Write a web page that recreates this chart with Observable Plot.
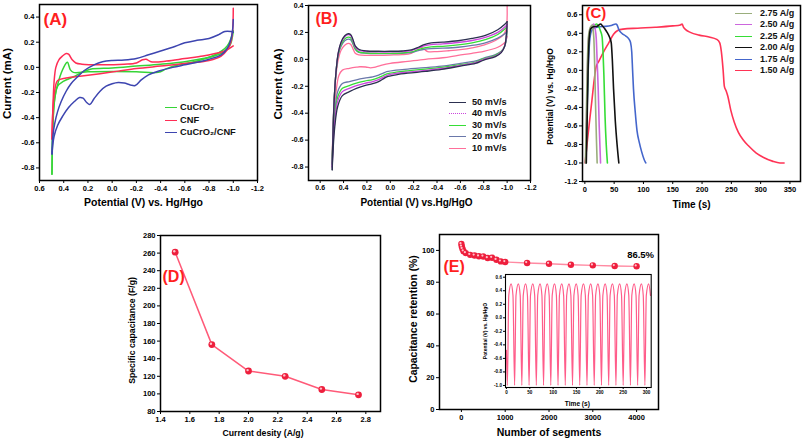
<!DOCTYPE html>
<html><head><meta charset="utf-8">
<script src="https://cdn.jsdelivr.net/npm/d3@7"></script>
<script src="https://cdn.jsdelivr.net/npm/@observablehq/plot@0.6"></script>
<style>
body{margin:0;background:#fff;}
#fig{position:relative;width:803px;height:442px;overflow:hidden;background:#fff;font-family:"Liberation Sans",Arial,sans-serif;}
#fig svg{position:absolute;}
.lgt{position:absolute;font-weight:bold;color:#111;white-space:nowrap;}
.lgs{position:absolute;height:0;}
</style>
</head><body><div id="fig"></div>
<script>
// ---------------- Panel A data ----------------
const aSeries = ["CuCrO₂", "CNF", "CuCrO₂/CNF"];
const aColors = ["#36d436", "#ff2d55", "#3d45b0"];
const aXTicks = [0.6, 0.4, 0.2, 0.0, -0.2, -0.4, -0.6, -0.8, -1.0, -1.2];
const aYTicks = [-0.8, -0.6, -0.4, -0.2, 0.0, 0.2, 0.4];
const aGreenUp = [[0.497,-0.85],[0.49,-0.5],[0.475,-0.25],[0.44,-0.1],[0.40,0.0],[0.37,0.04],[0.345,-0.02],[0.32,-0.04],[0.2,-0.035],[0.0,-0.033],[-0.2,-0.035],[-0.38,-0.04],[-0.45,-0.01],[-0.55,0.02],[-0.7,0.05],[-0.85,0.1],[-0.95,0.17],[-1.0,0.29]];
const aGreenDown = [[-1.0,0.29],[-0.97,0.17],[-0.9,0.11],[-0.75,0.07],[-0.6,0.045],[-0.4,0.025],[-0.2,0.01],[0.0,-0.005],[0.18,-0.015],[0.25,-0.04],[0.32,-0.075],[0.40,-0.11],[0.45,-0.15],[0.48,-0.3],[0.497,-0.85]];
const aRedUp = [[0.497,-0.57],[0.49,-0.35],[0.48,-0.12],[0.465,0.0],[0.44,0.06],[0.41,0.09],[0.38,0.11],[0.36,0.105],[0.33,0.06],[0.30,0.035],[0.25,0.025],[0.1,0.02],[-0.1,0.025],[-0.2,0.035],[-0.25,0.06],[-0.28,0.065],[-0.32,0.045],[-0.45,0.05],[-0.6,0.07],[-0.75,0.09],[-0.85,0.11],[-0.93,0.13],[-1.0,0.17]];
const aRedDown = [[-1.0,0.47],[-0.995,0.3],[-0.98,0.2],[-0.95,0.14],[-0.9,0.09],[-0.8,0.055],[-0.6,0.03],[-0.4,0.01],[-0.2,-0.01],[-0.05,-0.03],[0.1,-0.05],[0.25,-0.068],[0.38,-0.085],[0.45,-0.105],[0.475,-0.19],[0.49,-0.35],[0.497,-0.57]];
const aBlueUp = [[0.497,-0.69],[0.49,-0.55],[0.475,-0.45],[0.45,-0.35],[0.42,-0.27],[0.38,-0.19],[0.34,-0.13],[0.28,-0.07],[0.23,-0.025],[0.15,0.02],[0.08,0.045],[0.0,0.055],[-0.1,0.058],[-0.2,0.07],[-0.3,0.1],[-0.4,0.13],[-0.5,0.16],[-0.6,0.195],[-0.7,0.215],[-0.8,0.23],[-0.88,0.26],[-0.93,0.285],[-0.98,0.285],[-1.0,0.28]];
const aBlueDown = [[-1.0,0.38],[-0.995,0.3],[-0.98,0.22],[-0.95,0.15],[-0.9,0.1],[-0.8,0.065],[-0.7,0.04],[-0.6,0.02],[-0.5,0.0],[-0.4,-0.025],[-0.3,-0.06],[-0.24,-0.1],[-0.19,-0.145],[-0.15,-0.14],[-0.1,-0.125],[-0.05,-0.12],[0.0,-0.13],[0.05,-0.15],[0.1,-0.19],[0.15,-0.25],[0.185,-0.295],[0.21,-0.28],[0.24,-0.245],[0.27,-0.24],[0.31,-0.27],[0.36,-0.32],[0.41,-0.39],[0.45,-0.46],[0.48,-0.55],[0.497,-0.69]];

// ---------------- Panel B data ----------------
const bSeries = ["50 mV/s", "40 mV/s", "30 mV/s", "20 mV/s", "10 mV/s"];
const bColors = ["#2c3050", "#cc44dd", "#36dd36", "#6a78aa", "#ff6f9a"];
const bXTicks = [0.6, 0.4, 0.2, 0.0, -0.2, -0.4, -0.6, -0.8, -1.0, -1.2];
const bYTicks = [-0.8, -0.6, -0.4, -0.2, 0.0, 0.2, 0.4];
const b50Up = [[0.497,-0.82],[0.49,-0.55],[0.48,-0.3],[0.465,-0.1],[0.445,0.05],[0.42,0.13],[0.39,0.175],[0.36,0.19],[0.34,0.185],[0.32,0.15],[0.30,0.1],[0.27,0.075],[0.2,0.062],[0.1,0.06],[0.0,0.06],[-0.1,0.062],[-0.18,0.07],[-0.24,0.09],[-0.29,0.11],[-0.35,0.123],[-0.45,0.128],[-0.58,0.138],[-0.7,0.155],[-0.82,0.18],[-0.92,0.22],[-0.98,0.26],[-1.0,0.28]];
const b50Down = [[-1.0,0.28],[-0.995,0.2],[-0.98,0.1],[-0.95,0.05],[-0.9,0.02],[-0.8,-0.005],[-0.73,-0.03],[-0.6,-0.05],[-0.44,-0.075],[-0.3,-0.09],[-0.15,-0.103],[-0.05,-0.115],[0.03,-0.13],[0.06,-0.145],[0.1,-0.165],[0.15,-0.18],[0.22,-0.195],[0.29,-0.215],[0.35,-0.24],[0.41,-0.27],[0.45,-0.35],[0.475,-0.5],[0.49,-0.68],[0.497,-0.82]];
const b40Up = [[0.497,-0.8],[0.49,-0.55],[0.48,-0.3],[0.465,-0.1],[0.445,0.05],[0.42,0.125],[0.39,0.168],[0.36,0.183],[0.34,0.178],[0.32,0.14],[0.30,0.09],[0.27,0.068],[0.2,0.057],[0.1,0.055],[0.0,0.055],[-0.1,0.057],[-0.18,0.065],[-0.24,0.085],[-0.29,0.1],[-0.35,0.11],[-0.45,0.115],[-0.58,0.125],[-0.7,0.14],[-0.82,0.165],[-0.92,0.2],[-0.98,0.24],[-1.0,0.26]];
const b40Down = [[-1.0,0.26],[-0.995,0.19],[-0.98,0.1],[-0.95,0.055],[-0.9,0.025],[-0.8,0.0],[-0.73,-0.025],[-0.6,-0.045],[-0.44,-0.068],[-0.3,-0.082],[-0.15,-0.095],[-0.05,-0.105],[0.03,-0.12],[0.06,-0.133],[0.1,-0.15],[0.15,-0.165],[0.22,-0.178],[0.29,-0.195],[0.35,-0.215],[0.41,-0.24],[0.45,-0.31],[0.475,-0.46],[0.49,-0.64],[0.497,-0.8]];
const b30Up = [[0.497,-0.78],[0.49,-0.53],[0.48,-0.3],[0.465,-0.1],[0.445,0.04],[0.42,0.11],[0.39,0.152],[0.36,0.165],[0.34,0.16],[0.32,0.125],[0.30,0.08],[0.27,0.055],[0.2,0.047],[0.1,0.045],[0.0,0.045],[-0.1,0.047],[-0.18,0.055],[-0.24,0.072],[-0.29,0.085],[-0.35,0.093],[-0.45,0.097],[-0.58,0.107],[-0.7,0.122],[-0.82,0.148],[-0.92,0.185],[-0.98,0.225],[-1.0,0.245]];
const b30Down = [[-1.0,0.245],[-0.995,0.18],[-0.98,0.1],[-0.95,0.058],[-0.9,0.03],[-0.8,0.005],[-0.73,-0.02],[-0.6,-0.04],[-0.44,-0.06],[-0.3,-0.073],[-0.15,-0.085],[-0.05,-0.095],[0.03,-0.108],[0.06,-0.12],[0.1,-0.135],[0.15,-0.15],[0.22,-0.162],[0.29,-0.177],[0.35,-0.195],[0.41,-0.215],[0.45,-0.28],[0.475,-0.43],[0.49,-0.6],[0.497,-0.78]];
const b20Up = [[0.497,-0.77],[0.49,-0.52],[0.48,-0.3],[0.465,-0.1],[0.445,0.035],[0.42,0.1],[0.39,0.138],[0.36,0.15],[0.34,0.145],[0.32,0.115],[0.30,0.075],[0.27,0.052],[0.2,0.045],[0.1,0.043],[0.0,0.043],[-0.1,0.045],[-0.18,0.05],[-0.24,0.065],[-0.29,0.075],[-0.35,0.08],[-0.45,0.083],[-0.58,0.09],[-0.7,0.103],[-0.82,0.125],[-0.92,0.158],[-0.98,0.19],[-1.0,0.21]];
const b20Down = [[-1.0,0.21],[-0.995,0.16],[-0.98,0.1],[-0.95,0.06],[-0.9,0.035],[-0.8,0.01],[-0.73,-0.012],[-0.6,-0.03],[-0.44,-0.05],[-0.3,-0.062],[-0.15,-0.072],[-0.05,-0.08],[0.03,-0.092],[0.06,-0.103],[0.1,-0.117],[0.15,-0.13],[0.22,-0.14],[0.29,-0.152],[0.35,-0.165],[0.41,-0.18],[0.45,-0.24],[0.475,-0.4],[0.49,-0.57],[0.497,-0.77]];
const b10Up = [[0.497,-0.74],[0.49,-0.5],[0.48,-0.3],[0.465,-0.12],[0.445,0.0],[0.42,0.07],[0.39,0.105],[0.36,0.118],[0.34,0.112],[0.32,0.08],[0.30,0.045],[0.27,0.033],[0.2,0.03],[0.1,0.03],[0.0,0.032],[-0.1,0.035],[-0.18,0.045],[-0.22,0.065],[-0.26,0.09],[-0.29,0.075],[-0.32,0.058],[-0.4,0.058],[-0.5,0.064],[-0.6,0.072],[-0.7,0.085],[-0.8,0.105],[-0.9,0.14],[-0.96,0.175],[-0.99,0.22],[-1.0,0.4]];
const b10Down = [[-1.0,0.17],[-0.985,0.13],[-0.96,0.11],[-0.92,0.09],[-0.87,0.075],[-0.8,0.06],[-0.7,0.045],[-0.58,0.03],[-0.45,0.012],[-0.3,0.0],[-0.15,-0.015],[0.0,-0.03],[0.08,-0.045],[0.14,-0.06],[0.17,-0.063],[0.21,-0.057],[0.26,-0.055],[0.29,-0.058],[0.35,-0.067],[0.41,-0.08],[0.44,-0.12],[0.465,-0.25],[0.485,-0.45],[0.497,-0.74]];

// ---------------- Panel C data ----------------
const cSeries = ["2.75 A/g", "2.50 A/g", "2.25 A/g", "2.00 A/g", "1.75 A/g", "1.50 A/g"];
const cColors = ["#9aae7c", "#cc66dd", "#36dd36", "#111111", "#4466cc", "#ff3355"];
const cXTicks = [0, 50, 100, 150, 200, 250, 300, 350];
const cYTicks = [-1.2, -1.0, -0.8, -0.6, -0.4, -0.2, 0.0, 0.2, 0.4, 0.6];
const c275 = [[1,-1.0],[2.5,-0.5],[4,0.0],[6,0.35],[8.5,0.45],[11,0.48],[12.6,0.49],[14,0.44],[15.4,0.34],[17,0.0],[18.3,-0.38],[19.8,-0.75],[21,-1.0]];
const c250 = [[1.5,-1.0],[3,-0.5],[4.5,0.0],[6.5,0.35],[9,0.45],[12,0.48],[15,0.5],[17.5,0.45],[19.5,0.34],[21,0.1],[22.8,-0.2],[24.5,-0.6],[26.8,-1.0]];
const c225 = [[2,-1.0],[3.5,-0.5],[5,0.0],[7,0.35],[10,0.45],[15,0.48],[20,0.5],[23,0.48],[27,0.42],[29.5,0.36],[31,0.2],[32.5,-0.05],[34.5,-0.5],[36.5,-0.8],[38.5,-1.0]];
const c200 = [[2.5,-1.0],[4,-0.5],[5.5,0.0],[7.5,0.35],[10,0.45],[15,0.47],[21,0.475],[27,0.5],[30,0.48],[34,0.45],[38,0.41],[42,0.36],[45,0.3],[47,0.1],[49,-0.2],[52,-0.55],[55,-0.8],[58,-1.0]];
const c175 = [[1.5,-1.0],[3.5,-0.5],[5.5,-0.05],[8,0.3],[11,0.42],[15,0.455],[25,0.47],[35,0.475],[45,0.485],[53,0.5],[55,0.49],[58,0.44],[63,0.4],[70,0.37],[75,0.34],[78,0.3],[80,0.2],[81.5,0.0],[83,-0.2],[86,-0.45],[89,-0.65],[93,-0.78],[97,-0.88],[101,-0.96],[104,-1.0]];
const c150 = [[0.5,-1.0],[4,-0.78],[8,-0.55],[12,-0.33],[16,-0.1],[19,0.03],[24,0.1],[32,0.2],[41,0.3],[49,0.39],[56,0.43],[65,0.445],[90,0.455],[120,0.465],[150,0.48],[163,0.49],[166,0.5],[168,0.47],[172,0.44],[180,0.41],[195,0.38],[212,0.36],[225,0.335],[230,0.3],[233,0.2],[236,0.0],[238,-0.17],[241,-0.22],[244,-0.28],[249,-0.43],[255,-0.56],[262,-0.67],[270,-0.75],[280,-0.82],[292,-0.89],[305,-0.94],[320,-0.98],[333,-1.0],[340,-1.0]];

// ---------------- Panel D data ----------------
const dCurrent = [1.5, 1.75, 2.0, 2.25, 2.5, 2.75];
const dCapacitance = [261, 156, 126, 120, 105, 99];
const dXTicks = [1.4, 1.6, 1.8, 2.0, 2.2, 2.4, 2.6, 2.8];
const dYTicks = [80, 100, 120, 140, 160, 180, 200, 220, 240, 260, 280];

// ---------------- Panel E data ----------------
const eSegments = [0, 10, 25, 50, 100, 200, 300, 400, 500, 600, 700, 800, 900, 1000, 1500, 2000, 2500, 3000, 3500, 4000];
const eRetention = [104, 102.5, 101, 99.5, 98.3, 97.2, 96.8, 96.3, 96.2, 95.2, 95.4, 94.1, 93.1, 92.7, 92.1, 91.6, 91.0, 90.6, 90.2, 90.0];
const eXTicks = [0, 1000, 2000, 3000, 4000];
const eYTicks = [0, 20, 40, 60, 80, 100];
const eNote = {x: 4000, y: 97, text: "86.5%"};

// inset: galvanostatic cycling, potential vs time
const insStart = [0, -0.48];
const insLow = -1.0, insShoulder = 0.33, insHigh = 0.5;
const insTroughT = [2,17.5,33,48.5,64,79.5,95,110.5,126,141.5,157,172.5,188,203.5,219,234.5,250,265.5,281,296.5];
const insRiseT   = [5,20.5,36,51.5,67,82.5,98,113.5,129,144.5,160,175.5,191,206.5,222,237.5,253,268.5,284,299.5];
const insPeakT   = [10,25.5,41,56.5,72,87.5,103,118.5,134,149.5,165,180.5,196,211.5,227,242.5,258,273.5,289,304.5];
const insFallT   = [14,29.5,45,60.5,76,91.5,107,122.5,138,153.5,169,184.5,200,215.5,231,246.5,262,277.5,293,308.5];
const insXTicks = [0, 50, 100, 150, 200, 250, 300];
const insYTicks = [-1.0, -0.8, -0.6, -0.4, -0.2, 0.0, 0.2, 0.4, 0.6];

// ---------------- helpers ----------------
const FONT = '"Liberation Sans", Arial, sans-serif';
const fig = document.getElementById("fig");
const f1 = d => d.toFixed(1);
const f0 = d => String(d);

function rows(pairs, s, k) { return pairs.map(([x, y]) => ({x, y, s, k})); }

function panel(o) {
  const marks = [
    ...o.marks,
    Plot.frame({stroke: "#000", strokeWidth: o.frameW || 1.5}),
    Plot.axisX({ticks: o.xTicks, tickFormat: o.xFmt, tickSize: o.tickSize || 3, tickPadding: o.tickPad || 2, fontSize: o.tickFont, fontWeight: "bold", label: null}),
    Plot.axisY({ticks: o.yTicks, tickFormat: o.yFmt, tickSize: o.tickSize || 3, tickPadding: o.tickPad || 2, fontSize: o.tickFont, fontWeight: "bold", label: null}),
    Plot.text([o.xTitle], {text: d => d, frameAnchor: "bottom", textAnchor: "middle", dx: o.xtDx || 0, dy: o.xtDy, fontSize: o.xtFont, fontWeight: "bold", lineAnchor: "middle"}),
    Plot.text([o.yTitle], {text: d => d, frameAnchor: "left", textAnchor: "middle", rotate: -90, dx: o.ytDx, dy: o.ytDy || 0, fontSize: o.ytFont, fontWeight: "bold", lineAnchor: "middle"})
  ];
  if (o.tag) marks.push(Plot.text([o.tag], {text: d => d, frameAnchor: "top-left", dx: o.tagDx, dy: o.tagDy, fill: "#ff1f1f", fontSize: o.tagFont, fontWeight: "bold", textAnchor: "start", lineAnchor: "top"}));
  const svg = Plot.plot({
    width: o.width, height: o.height,
    marginLeft: o.ml, marginRight: o.mr, marginTop: o.mt, marginBottom: o.mb,
    x: {domain: o.xDomain}, y: {domain: o.yDomain},
    color: o.color,
    style: {fontFamily: FONT, background: "none", overflow: "visible", color: "#000"},
    marks
  });
  svg.style.left = o.left + "px";
  svg.style.top = o.top + "px";
  fig.appendChild(svg);
  return svg;
}

function legend(names, colors, o) {
  names.forEach((n, i) => {
    const y = o.y0 + i * o.dy;
    const sw = document.createElement("div");
    sw.className = "lgs";
    sw.style.left = o.sx + "px";
    sw.style.width = o.sw + "px";
    sw.style.top = (y - 0.8) + "px";
    sw.style.borderTop = "1.6px " + ((o.dotted && o.dotted[i]) ? "dotted " : "solid ") + colors[i];
    fig.appendChild(sw);
    const t = document.createElement("div");
    t.className = "lgt";
    t.textContent = n;
    t.style.left = o.tx + "px";
    t.style.fontSize = o.fs + "px";
    t.style.lineHeight = o.fs * 1.2 + "px";
    t.style.top = (y - o.fs * 0.6) + "px";
    fig.appendChild(t);
  });
}

// ---------------- Panel A ----------------
const aTable = [
  ...rows(aGreenUp, aSeries[0], "g1"), ...rows(aGreenDown, aSeries[0], "g2"),
  ...rows(aRedUp, aSeries[1], "r1"), ...rows(aRedDown, aSeries[1], "r2"),
  ...rows(aBlueUp, aSeries[2], "b1"), ...rows(aBlueDown, aSeries[2], "b2")
];
panel({
  left: 0, top: 0, width: 262, height: 215, ml: 39, mr: 5, mt: 4, mb: 35,
  xDomain: [0.6, -1.2], yDomain: [-0.9, 0.5], xTicks: aXTicks, yTicks: aYTicks, xFmt: f1, yFmt: f1, tickFont: 7.5,
  color: {domain: aSeries, range: aColors},
  marks: [Plot.line(aTable, {x: "x", y: "y", z: "k", stroke: "s", strokeWidth: 1.5, curve: "catmull-rom"})],
  xTitle: "Potential (V) vs. Hg/Hgo", xtDx: -5, xtDy: 22, xtFont: 10.5,
  yTitle: "Current (mA)", ytDx: -32, ytDy: -9, ytFont: 11.5,
  tag: "(A)", tagDx: 4, tagDy: 8, tagFont: 17
});
legend(aSeries, aColors, {sx: 165, sw: 12, tx: 180, y0: 108, dy: 12.5, fs: 9.3});

// ---------------- Panel B ----------------
const bUps = [b50Up, b40Up, b30Up, b20Up, b10Up];
const bDowns = [b50Down, b40Down, b30Down, b20Down, b10Down];
const bTable = [];
[4, 3, 2, 1, 0].forEach(i => {
  bTable.push(...rows(bUps[i], bSeries[i], "u" + i), ...rows(bDowns[i], bSeries[i], "d" + i));
});
panel({
  left: 266, top: 0, width: 270, height: 215, ml: 42, mr: 6, mt: 5, mb: 35,
  xDomain: [0.7, -1.2], yDomain: [-0.9, 0.4], xTicks: bXTicks, yTicks: bYTicks, xFmt: f1, yFmt: f1, tickFont: 7,
  color: {domain: bSeries, range: bColors},
  marks: [Plot.line(bTable, {x: "x", y: "y", z: "k", stroke: "s", strokeWidth: 1.3, curve: "catmull-rom"})],
  xTitle: "Potential (V) vs.Hg/HgO", xtDx: -3, xtDy: 22, xtFont: 10,
  yTitle: "Current (mA)", ytDx: -30, ytDy: -9, ytFont: 11.5,
  tag: "(B)", tagDx: 7, tagDy: 7, tagFont: 16
});
legend(bSeries, bColors, {sx: 449, sw: 17, tx: 472, y0: 102.3, dy: 11.5, fs: 9.2, dotted: [false, true, false, false, false]});

// ---------------- Panel C ----------------
const cLines = [c150, c175, c225, c250, c275, c200];
const cNames = [cSeries[5], cSeries[4], cSeries[2], cSeries[1], cSeries[0], cSeries[3]];
const cTable = [];
cLines.forEach((pts, i) => cTable.push(...rows(pts, cNames[i], "c" + i)));
panel({
  left: 540, top: 0, width: 263, height: 215, ml: 42, mr: 3, mt: 5, mb: 34,
  xDomain: [-4, 368], yDomain: [-1.2, 0.7], xTicks: cXTicks, yTicks: cYTicks, xFmt: f0, yFmt: f1, tickFont: 7.5,
  color: {domain: cSeries, range: cColors},
  marks: [Plot.line(cTable, {x: "x", y: "y", z: "k", stroke: "s", strokeWidth: 1.6, curve: "monotone-x"})],
  xTitle: "Time (s)", xtDx: 0, xtDy: 23, xtFont: 10,
  yTitle: "Potential (V) vs. Hg/HgO", ytDx: -32, ytDy: 3, ytFont: 8.4,
  tag: "(C)", tagDx: 3, tagDy: 2, tagFont: 15
});
legend(cSeries, cColors, {sx: 735, sw: 17, tx: 760, y0: 13.3, dy: 11.5, fs: 9});

// ---------------- Panel D ----------------
const dTable = dCurrent.map((x, i) => ({x, y: dCapacitance[i]}));
panel({
  left: 120, top: 225, width: 270, height: 217, ml: 40, mr: 10, mt: 10, mb: 31,
  xDomain: [1.4, 2.9], yDomain: [80, 280], xTicks: dXTicks, yTicks: dYTicks, xFmt: f1, yFmt: f0, tickFont: 7.5,
  marks: [
    Plot.line(dTable, {x: "x", y: "y", stroke: "#ff5a78", strokeWidth: 1.5}),
    Plot.dot(dTable, {x: "x", y: "y", r: 3.4, fill: "#ee1f3d"}),
    Plot.dot(dTable, {x: "x", y: "y", r: 1.2, fill: "#ffc2ca", dx: -0.9, dy: -0.9})
  ],
  xTitle: "Current desity (A/g)", xtDx: -7.5, xtDy: 22, xtFont: 8.7,
  yTitle: "Specific capacitance (F/g)", ytDx: -28, ytDy: 7, ytFont: 8.7,
  tag: "(D)", tagDx: 2, tagDy: 35, tagFont: 16
});

// ---------------- Panel E ----------------
const eTable = eSegments.map((x, i) => ({x, y: eRetention[i]}));
panel({
  left: 400, top: 225, width: 265, height: 217, ml: 39, mr: 7, mt: 9, mb: 33,
  xDomain: [-500, 4500], yDomain: [0, 110], xTicks: eXTicks, yTicks: eYTicks, xFmt: f0, yFmt: f0, tickFont: 7.5,
  marks: [
    Plot.line(eTable, {x: "x", y: "y", stroke: "#ff8aa2", strokeWidth: 1.3}),
    Plot.dot(eTable, {x: "x", y: "y", r: 3.2, fill: "#ee1f3d"}),
    Plot.dot(eTable, {x: "x", y: "y", r: 1.1, fill: "#ffc2ca", dx: -0.9, dy: -0.9}),
    Plot.text([eNote], {x: "x", y: "y", text: "text", dx: 4, fontSize: 9.5, fontWeight: "bold"})
  ],
  xTitle: "Number of segments", xtDx: 0, xtDy: 23, xtFont: 10.5,
  yTitle: "Capacitance retention (%)", ytDx: -26, ytDy: -3, ytFont: 10.4,
  tag: "(E)", tagDx: 4, tagDy: 26, tagFont: 16
});

// ---------------- Inset ----------------
const insTable = [{x: insStart[0], y: insStart[1]}];
insTroughT.forEach((t, i) => {
  insTable.push({x: t, y: insLow}, {x: insRiseT[i], y: insShoulder}, {x: insPeakT[i], y: insHigh}, {x: insFallT[i], y: insShoulder});
});
panel({
  left: 478, top: 268, width: 178, height: 142, ml: 27, mr: 5.3, mt: 6, mb: 23,
  xDomain: [-2, 310], yDomain: [-1.03, 0.64], xTicks: insXTicks, yTicks: insYTicks, xFmt: f0, yFmt: f1, tickFont: 4.6,
  tickSize: 2, tickPad: 1.5, frameW: 1.1,
  marks: [Plot.line(insTable, {x: "x", y: "y", stroke: "#ff5c8a", strokeWidth: 1.2, curve: "monotone-x"})],
  xTitle: "Time (s)", xtDx: -1, xtDy: 16, xtFont: 6.6,
  yTitle: "Potential (V) vs. Hg/HgO", ytDx: -20, ytDy: 0, ytFont: 4.9
});
</script>
</body></html>
